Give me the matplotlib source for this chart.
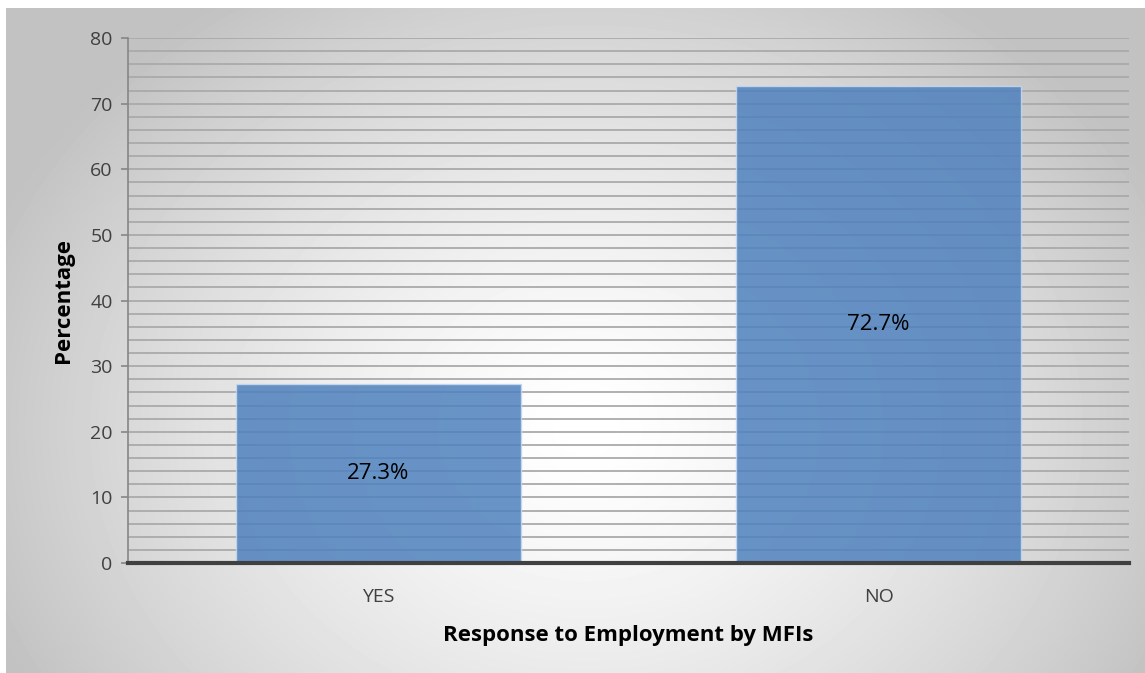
import numpy as np
import matplotlib.pyplot as plt

categories = ["YES", "NO"]
values = [27.3, 72.7]
labels = ["27.3%", "72.7%"]

plt.rcParams['font.family'] = ['Open Sans', 'DejaVu Sans']

fig = plt.figure(figsize=(11.45, 6.73), dpi=100)

# radial grey-to-white backdrop like the office chart area
bg = fig.add_axes([6 / 1145, 0, 1 - 6 / 1145, 1 - 8 / 673], zorder=-1)
h, w = 665, 1139
yy, xx = np.mgrid[0:h, 0:w]
r = np.sqrt(((xx - 580) / 640) ** 2 + ((yy - 420) / 520) ** 2)
r = np.clip(r, 0, 1)
shade = 1.0 - 0.24 * r ** 1.4
bg.imshow(shade, cmap='gray', vmin=0, vmax=1, aspect='auto', interpolation='bilinear')
bg.axis('off')

ax = fig.add_axes([128 / 1145, 110 / 673, (1129 - 128) / 1145, (563 - 38) / 673])
ax.patch.set_alpha(0)

ax.set_ylim(0, 80)
ax.set_xlim(-0.5, 1.5)
ax.set_yticks(np.arange(0, 81, 10))
ax.set_yticks(np.arange(0, 81, 2), minor=True)
ax.yaxis.grid(True, which='both', color='#aaaaaa', linewidth=1.3, zorder=0)
ax.set_axisbelow(True)

x = np.arange(len(categories))
bars = ax.bar(x, values, width=0.57, color='#4f81bd', alpha=0.85,
              edgecolor='#c6d9f1', linewidth=1.0, zorder=3)
for b, lab in zip(bars, labels):
    ax.text(b.get_x() + b.get_width() / 2, b.get_height() / 2, lab,
            ha='center', va='center', fontsize=16, color='black', zorder=4)

ax.set_xticks(x)
ax.set_xticklabels(categories, fontsize=14, color='#404040')
ax.tick_params(axis='x', length=0, pad=18)
ax.tick_params(axis='y', which='major', length=5, width=1.2, color='#868686',
               labelsize=14, labelcolor='#404040', pad=6)
ax.tick_params(axis='y', which='minor', length=0)

ax.spines['top'].set_visible(False)
ax.spines['right'].set_visible(False)
ax.spines['left'].set_color('#868686')
ax.spines['left'].set_linewidth(1.2)
ax.spines['bottom'].set_color('#404040')
ax.spines['bottom'].set_linewidth(3)
ax.spines['bottom'].set_zorder(5)

ax.set_ylabel("Percentage", fontsize=16, fontweight='bold', labelpad=12)
ax.set_xlabel("Response to Employment by MFIs", fontsize=16, fontweight='bold', labelpad=14)

fig.savefig("out.png", dpi=100)
